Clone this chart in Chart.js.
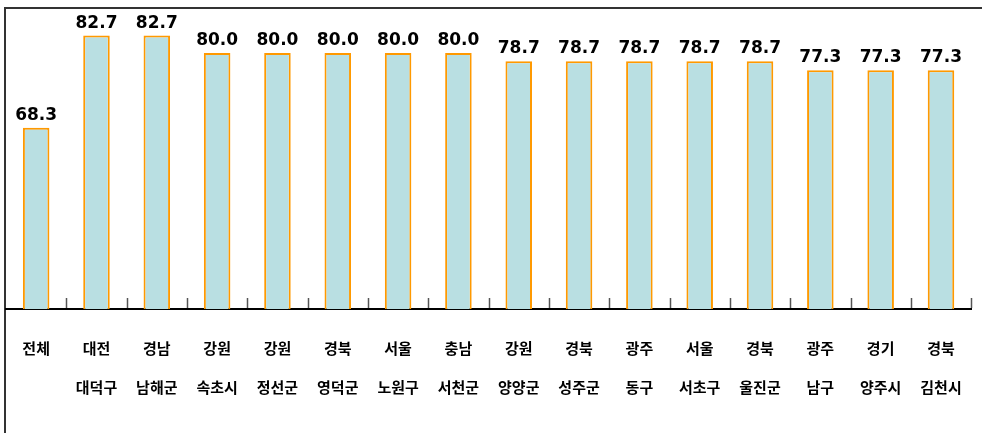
<!DOCTYPE html>
<html>
<head>
<meta charset="utf-8">
<script src="https://cdn.jsdelivr.net/npm/chart.js@4/dist/chart.umd.min.js"></script>
<style>
  html, body { margin: 0; padding: 0; background: #fff; overflow: hidden; }
  #wrap { position: relative; width: 982px; height: 433px; overflow: hidden; }
  #frame { position: absolute; left: 4px; top: 7px; width: 1100px; height: 600px;
           border-left: 2px solid #333; border-top: 2px solid #333; }
  canvas { position: absolute; left: 0; top: 0; }
</style>
</head>
<body>
<div id="wrap">
  <div id="frame"></div>
  <canvas id="my-chart" width="982" height="433"></canvas>
</div>
<script>
var regions = ['전체', '대전', '경남', '강원', '강원', '경북', '서울', '충남',
               '강원', '경북', '광주', '서울', '경북', '광주', '경기', '경북'];
var districts = ['', '대덕구', '남해군', '속초시', '정선군', '영덕군', '노원구', '서천군',
                 '양양군', '성주군', '동구', '서초구', '울진군', '남구', '양주시', '김천시'];
var values = [68.3, 82.7, 82.7, 80.0, 80.0, 80.0, 80.0, 80.0,
              78.7, 78.7, 78.7, 78.7, 78.7, 77.3, 77.3, 77.3];

var labels = [];
for (var i = 0; i < regions.length; i++) {
  labels.push([regions[i], districts[i]]);
}

// value labels over the bars and little tick marks standing on the axis
var extras = {
  id: 'extras',
  afterDatasetsDraw: function(chart) {
    var ctx = chart.ctx;
    var xs = chart.scales.x;
    var bottom = chart.chartArea.bottom;
    ctx.save();
    ctx.strokeStyle = '#555';
    ctx.lineWidth = 1.5;
    for (var i = 1; i <= values.length; i++) {
      var x = Math.round(xs.getPixelForValue(i - 0.5)) + 0.5;
      ctx.beginPath();
      ctx.moveTo(x, bottom - 1);
      ctx.lineTo(x, bottom - 11);
      ctx.stroke();
    }
    var meta = chart.getDatasetMeta(0);
    ctx.fillStyle = '#000';
    ctx.font = 'bold 17px "DejaVu Sans"';
    ctx.textAlign = 'center';
    ctx.textBaseline = 'bottom';
    meta.data.forEach(function(bar, j) {
      ctx.fillText(values[j].toFixed(1), bar.x, bar.y - 4);
    });
    ctx.restore();
  }
};

var ctx = document.getElementById('my-chart');
var myChart = new Chart(ctx, {
  type: 'bar',
  data: {
    labels: labels,
    datasets: [{
      data: values,
      backgroundColor: '#b9dfe2',
      borderColor: '#ff9900',
      borderWidth: 2,
      barPercentage: 0.44,
      categoryPercentage: 1
    }]
  },
  options: {
    responsive: false,
    animation: false,
    layout: { padding: { left: 6, right: 10, top: 10, bottom: 0 } },
    plugins: { legend: { display: false }, tooltip: { enabled: false } },
    scales: {
      x: {
        grid: { display: false, drawTicks: false },
        border: { display: true, color: '#000', width: 2 },
        ticks: {
          color: '#000',
          padding: 20,
          maxRotation: 0,
          autoSkip: false,
          font: { family: '"Noto Sans CJK KR"', size: 15, weight: 'bold', lineHeight: '39px' }
        },
        afterFit: function(scale) { scale.height = 124; }
      },
      y: {
        display: false,
        min: 40,
        max: 86.7
      }
    }
  },
  plugins: [extras]
});
</script>
</body>
</html>
